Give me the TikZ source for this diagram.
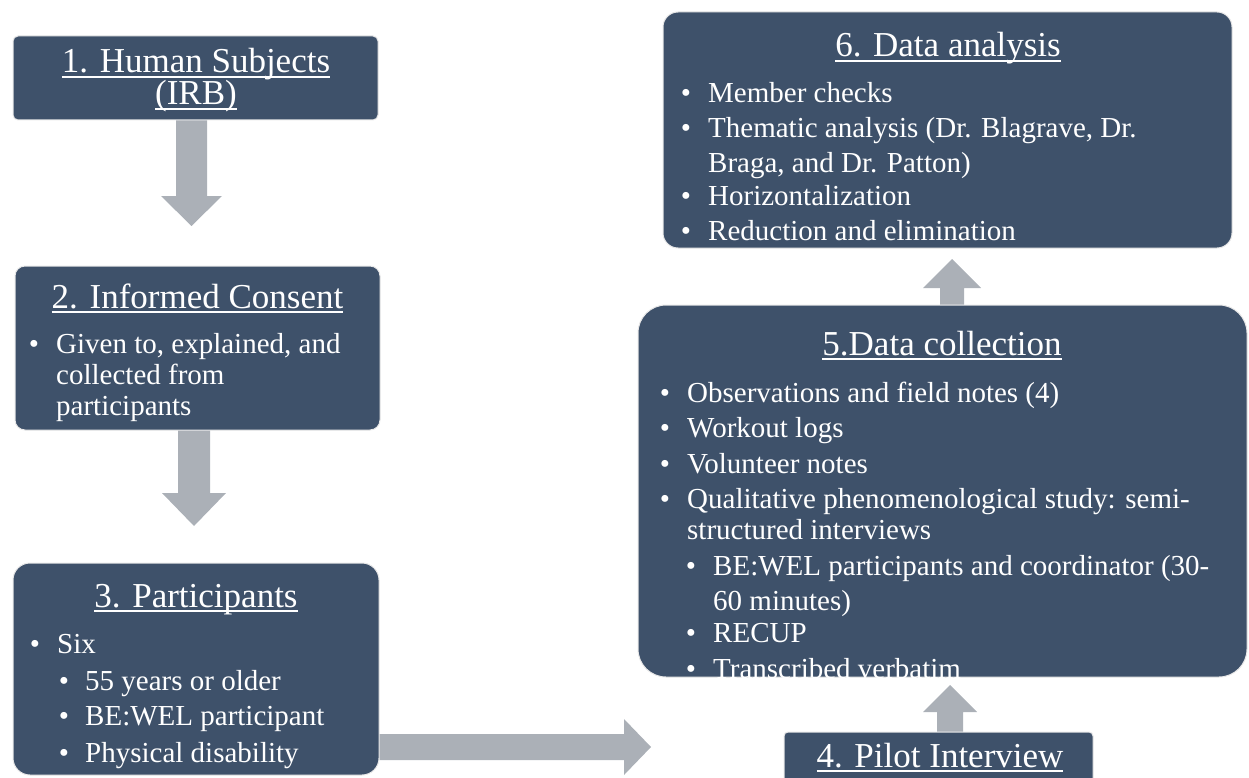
\documentclass[tikz,border=0pt]{standalone}
\usepackage{fontspec}
\setmainfont{Liberation Serif}
\usetikzlibrary{calc}
\definecolor{boxc}{RGB}{62,81,106}
\definecolor{arrc}{RGB}{171,176,183}
\newcommand\myul[1]{\setbox0\hbox{#1}\rlap{\rule[-5pt]{\wd0}{1.6pt}}\box0}
\newcommand\tightlines{\lineskiplimit=-50pt\relax\lineskip=0pt\relax}
\newcommand\blockarrow[5]{%
  \coordinate (bah) at ($(#2)!#5pt!(#1)$);
  \fill[arrc] ($(#1)!#3pt!90:(#2)$) -- ($(bah)!#3pt!90:(#2)$) -- ($(bah)!#4pt!90:(#2)$) -- (#2)
    -- ($(bah)!#4pt!-90:(#2)$) -- ($(bah)!#3pt!-90:(#2)$) -- ($(#1)!#3pt!-90:(#2)$) -- cycle;}
\tikzset{
  box/.style={draw=white!82!gray, line width=1pt, fill=boxc, inner sep=0pt},
  body/.style={text=white, font=\fontsize{29}{34}\selectfont, inner sep=0pt, anchor=base west},
  bul/.style={text=white, font=\fontsize{29}{34}\selectfont, inner sep=0pt, anchor=base},
  ttl/.style={text=white, font=\fontsize{35}{40}\selectfont, inner sep=0pt, anchor=base},
}
\begin{document}
\begin{tikzpicture}[x=1pt,y=-1pt]
\useasboundingbox (0,0) rectangle (1249,778);
\clip (0,0) rectangle (1249,778);

% boxes
\node[box, rounded corners=5, minimum width=365, minimum height=84] (b1) at (195.5,78) {};
\node[box, rounded corners=10, minimum width=365, minimum height=164] (b2) at (197.5,348) {};
\node[box, rounded corners=17, minimum width=366, minimum height=212] (b3) at (196,669) {};
\node[box, rounded corners=4, minimum width=309, minimum height=70] (b4) at (938.5,767) {};
\node[box, rounded corners=28, minimum width=609, minimum height=372] (b5) at (942.5,491) {};
\node[box, rounded corners=15, minimum width=569, minimum height=236] (b6) at (947.5,130) {};

% arrow tips and starts
\coordinate (t12) at (191.5,226);
\coordinate (s12) at (t12 |- b1.south);
\coordinate (t23) at (194,526);
\coordinate (s23) at (t23 |- b2.south);
\coordinate (t34) at (651,747);
\coordinate (s34) at (b3.east |- t34);
\coordinate (t45) at (950,685);
\coordinate (s45) at (t45 |- b4.north);
\coordinate (t56) at (952,259);
\coordinate (s56) at (t56 |- b5.north);

\blockarrow{s12}{t12}{15.5}{30.5}{30}
\blockarrow{s23}{t23}{16}{32}{33}
\blockarrow{s34}{t34}{13}{28}{27}
\blockarrow{s45}{t45}{13}{27}{27}
\blockarrow{s56}{t56}{12}{29}{29}

% box 1
\node[ttl, align=center, font=\fontsize{35}{32}\selectfont\tightlines] (h1) at (196,105)
  {\myul{1. Human Subjects}\\\myul{(IRB)}};

% box 2
\node[ttl] (h2) at (197.5,308) {\myul{2. Informed Consent}};
\node[bul] (d2a) at (34,353) {•};
\node[body] (l2a) at (56,353) {Given to, explained, and};
\node[body] (l2b) at (56,384) {collected from};
\node[body] (l2c) at (56,415) {participants};

% box 3
\node[ttl] (h3) at (196,607) {\myul{3. Participants}};
\node[bul] (d3a) at (35,653) {•};
\node[body] (l3a) at (57,653) {Six};
\node[bul] (d3b) at (64,690) {•};
\node[body] (l3b) at (85,690) {55 years or older};
\node[bul] (d3c) at (64,725) {•};
\node[body] (l3c) at (85,725) {BE:WEL participant};
\node[bul] (d3d) at (64,762) {•};
\node[body] (l3d) at (85,762) {Physical disability};

% box 4
\node[ttl] (h4) at (940,767) {\myul{4. Pilot Interview}};

% box 5
\node[ttl] (h5) at (942,355) {\myul{5.Data collection}};
\begin{scope}
\clip[rounded corners=28] (b5.north west) rectangle (b5.south east);
\node[bul] (d5a) at (665,402) {•};
\node[body] (l5a) at (687,402) {Observations and field notes (4)};
\node[bul] (d5b) at (665,437) {•};
\node[body] (l5b) at (687,437) {Workout logs};
\node[bul] (d5c) at (665,473) {•};
\node[body] (l5c) at (687,473) {Volunteer notes};
\node[bul] (d5d) at (665,508) {•};
\node[body] (l5d) at (687,508) {Qualitative phenomenological study: semi-};
\node[body] (l5e) at (687,539) {structured interviews};
\node[bul] (d5f) at (691,575) {•};
\node[body] (l5f) at (713,575) {BE:WEL participants and coordinator (30-};
\node[body] (l5g) at (713,610) {60 minutes)};
\node[bul] (d5h) at (691,642) {•};
\node[body] (l5h) at (713,642) {RECUP};
\node[bul] (d5i) at (691,678) {•};
\node[body] (l5i) at (713,678) {Transcribed verbatim};
\end{scope}

% box 6
\node[ttl] (h6) at (948,57) {\myul{6. Data analysis}};
\node[bul] (d6a) at (686,103) {•};
\node[body] (l6a) at (708,103) {Member checks};
\node[bul] (d6b) at (686,138) {•};
\node[body] (l6b) at (708,138) {Thematic analysis (Dr. Blagrave, Dr.};
\node[body] (l6c) at (708,172) {Braga, and Dr. Patton)};
\node[bul] (d6d) at (686,205) {•};
\node[body] (l6d) at (708,205) {Horizontalization};
\node[bul] (d6e) at (686,240) {•};
\node[body] (l6e) at (708,240) {Reduction and elimination};
\end{tikzpicture}
\end{document}
